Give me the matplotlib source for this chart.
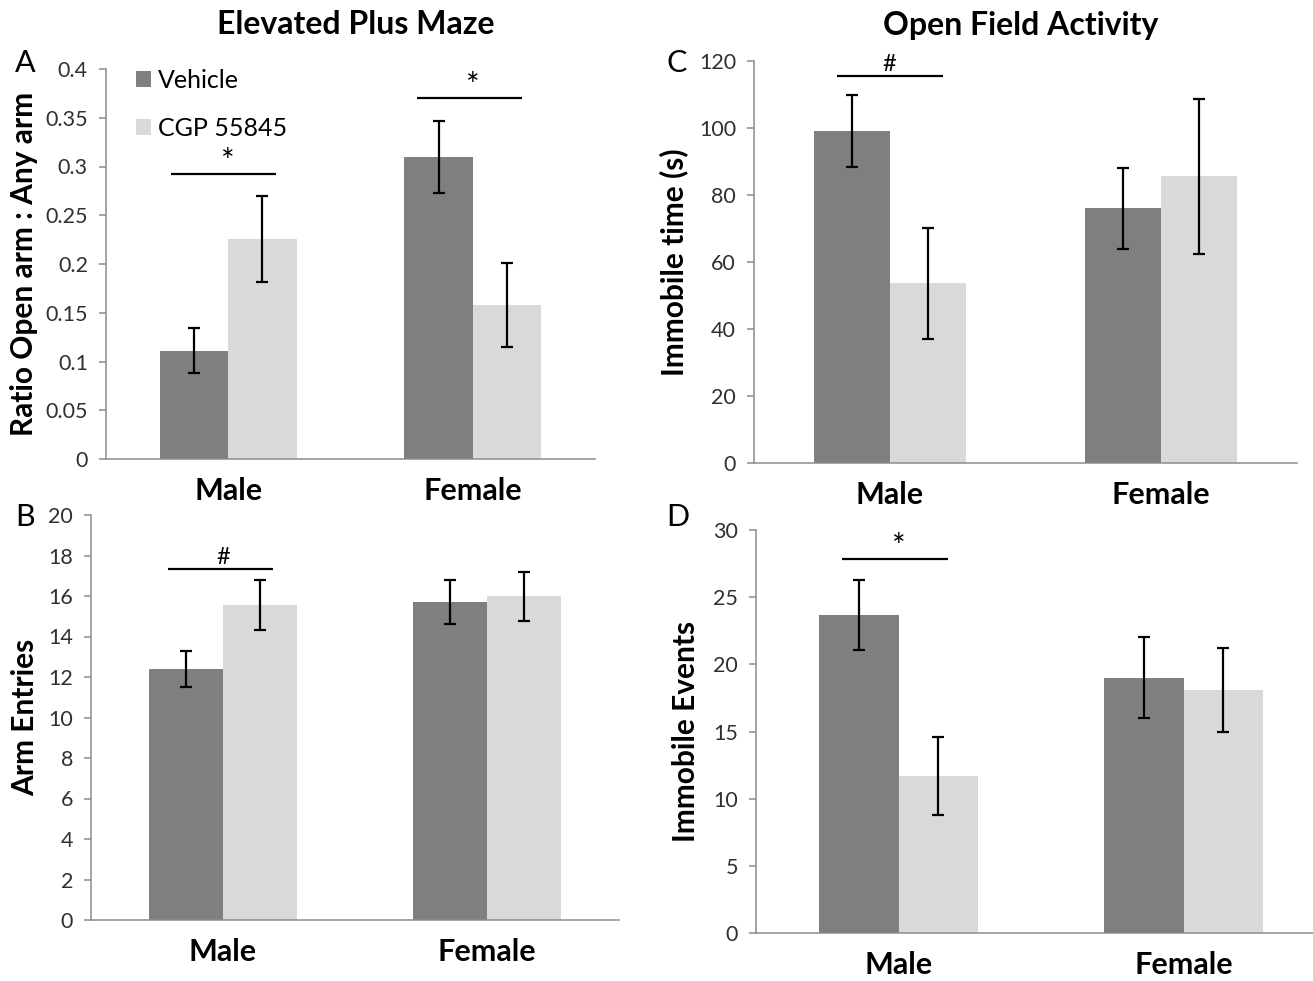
import numpy as np
import matplotlib
matplotlib.use("Agg")
import matplotlib.pyplot as plt
from matplotlib.patches import Patch
from matplotlib.ticker import FuncFormatter

plt.rcParams['font.family'] = ['Lato', 'DejaVu Sans']

# data (mean, sem)
groups = ['Male', 'Female']
series_names = ['Vehicle', 'CGP 55845']

ratio_vehicle = [0.111, 0.310]
ratio_vehicle_err = [0.023, 0.037]
ratio_cgp = [0.226, 0.158]
ratio_cgp_err = [0.044, 0.0435]

entries_vehicle = [12.4, 15.7]
entries_vehicle_err = [0.88, 1.1]
entries_cgp = [15.55, 15.98]
entries_cgp_err = [1.24, 1.2]

immobile_time_vehicle = [99.2, 76.1]
immobile_time_vehicle_err = [10.8, 12.1]
immobile_time_cgp = [53.6, 85.6]
immobile_time_cgp_err = [16.5, 23.2]

immobile_events_vehicle = [23.7, 19.0]
immobile_events_vehicle_err = [2.6, 3.0]
immobile_events_cgp = [11.7, 18.1]
immobile_events_cgp_err = [2.88, 3.12]

DARK = '#7f7f7f'
LIGHT = '#d9d9d9'
SPINE = '#8c8c8c'
BAR_W = 0.28


def draw_panel(ax, veh, veh_err, cgp, cgp_err, ymax, ystep, ylabel, sig):
	"""
	Excel-like grouped bar panel with error bars and significance lines
	"""
	x = np.arange(len(groups))
	ax.bar(x - BAR_W / 2, veh, BAR_W, color=DARK, zorder=2)
	ax.bar(x + BAR_W / 2, cgp, BAR_W, color=LIGHT, zorder=2)
	ax.errorbar(x - BAR_W / 2, veh, yerr=veh_err, fmt='none', ecolor='black',
				elinewidth=1.6, capsize=4, capthick=1.6, zorder=3)
	ax.errorbar(x + BAR_W / 2, cgp, yerr=cgp_err, fmt='none', ecolor='black',
				elinewidth=1.6, capsize=4, capthick=1.6, zorder=3)

	ax.set_xlim(-0.5, 1.5)
	ax.set_ylim(0, ymax)
	ax.set_yticks(np.arange(0, ymax + ystep / 2, ystep))
	ax.yaxis.set_major_formatter(FuncFormatter(lambda v, p: '%g' % round(v, 3)))
	ax.set_xticks(x)
	ax.set_xticklabels(groups, fontsize=22, fontweight='bold')

	for s in ['top', 'right']:
		ax.spines[s].set_visible(False)
	for s in ['left', 'bottom']:
		ax.spines[s].set_color(SPINE)
		ax.spines[s].set_linewidth(1.1)
	ax.tick_params(axis='y', colors=SPINE, labelcolor='#303030', labelsize=15.5,
				   length=5, width=1.1, pad=8)
	ax.tick_params(axis='x', length=0, pad=13, labelcolor='black')

	ax.set_ylabel(ylabel, fontsize=21.5, fontweight='bold')
	ax.yaxis.label.set_va('center')

	for gi, sym, level, lo, hi in sig:
		ax.plot([gi + lo, gi + hi], [level, level], color='black', lw=1.6,
				solid_capstyle='butt', zorder=3)
		if sym == '*':
			ax.annotate(sym, (gi, level), xytext=(0, -3), textcoords='offset points',
						ha='center', va='bottom', fontsize=23)
		else:
			ax.annotate(sym, (gi, level), xytext=(0, 1), textcoords='offset points',
						ha='center', va='bottom', fontsize=17)


fig = plt.figure(figsize=(13.13, 9.81), dpi=100)

axA = fig.add_axes([106 / 1313, 1 - 459 / 981, 489 / 1313, 390 / 981])
axB = fig.add_axes([91 / 1313, 1 - 920 / 981, 528 / 1313, 405 / 981])
axC = fig.add_axes([754 / 1313, 1 - 463 / 981, 543 / 1313, 402 / 981])
axD = fig.add_axes([756 / 1313, 1 - 933 / 981, 570 / 1313, 403 / 981])

draw_panel(axA, ratio_vehicle, ratio_vehicle_err, ratio_cgp, ratio_cgp_err,
		   0.4, 0.05, 'Ratio Open arm : Any arm',
		   [(0, '*', 0.2926, -0.235, 0.195), (1, '*', 0.3704, -0.23, 0.2)])
draw_panel(axB, entries_vehicle, entries_vehicle_err, entries_cgp, entries_cgp_err,
		   20, 2, 'Arm Entries',
		   [(0, '#', 17.31, -0.21, 0.19)])
draw_panel(axC, immobile_time_vehicle, immobile_time_vehicle_err,
		   immobile_time_cgp, immobile_time_cgp_err,
		   120, 20, 'Immobile time (s)',
		   [(0, '#', 115.5, -0.195, 0.195)])
draw_panel(axD, immobile_events_vehicle, immobile_events_vehicle_err,
		   immobile_events_cgp, immobile_events_cgp_err,
		   30, 5, 'Immobile Events',
		   [(0, '*', 27.82, -0.2, 0.175)])

# y label positions (figure pixels -> axes fraction)
axA.yaxis.set_label_coords((24 - 106) / 489, 0.5)
axB.yaxis.set_label_coords((25 - 91) / 528, 0.5)
axC.yaxis.set_label_coords((674 - 754) / 543, 0.5)
axD.yaxis.set_label_coords((686 - 756) / 570, 0.5)

# legend in panel A
handles = [Patch(facecolor=DARK), Patch(facecolor=LIGHT)]
axA.legend(handles, series_names, loc='upper left', bbox_to_anchor=(0.061, 1.0),
		   frameon=False, fontsize=18, handlelength=0.6, handleheight=0.6,
		   handletextpad=0.3, labelspacing=1.0, borderpad=0, borderaxespad=0)

# panel letters and titles
for letter, px, py in [('A', 15, 63), ('B', 15, 517), ('C', 667, 63), ('D', 666, 517)]:
	fig.text(px / 1313, 1 - py / 981, letter, fontsize=22, ha='left', va='center')
fig.text(356 / 1313, 1 - 25 / 981, 'Elevated Plus Maze', fontsize=23,
		 fontweight='bold', ha='center', va='center')
fig.text(1021 / 1313, 1 - 25 / 981, 'Open Field Activity', fontsize=23,
		 fontweight='bold', ha='center', va='center')

fig.savefig('out.png', dpi=100)
